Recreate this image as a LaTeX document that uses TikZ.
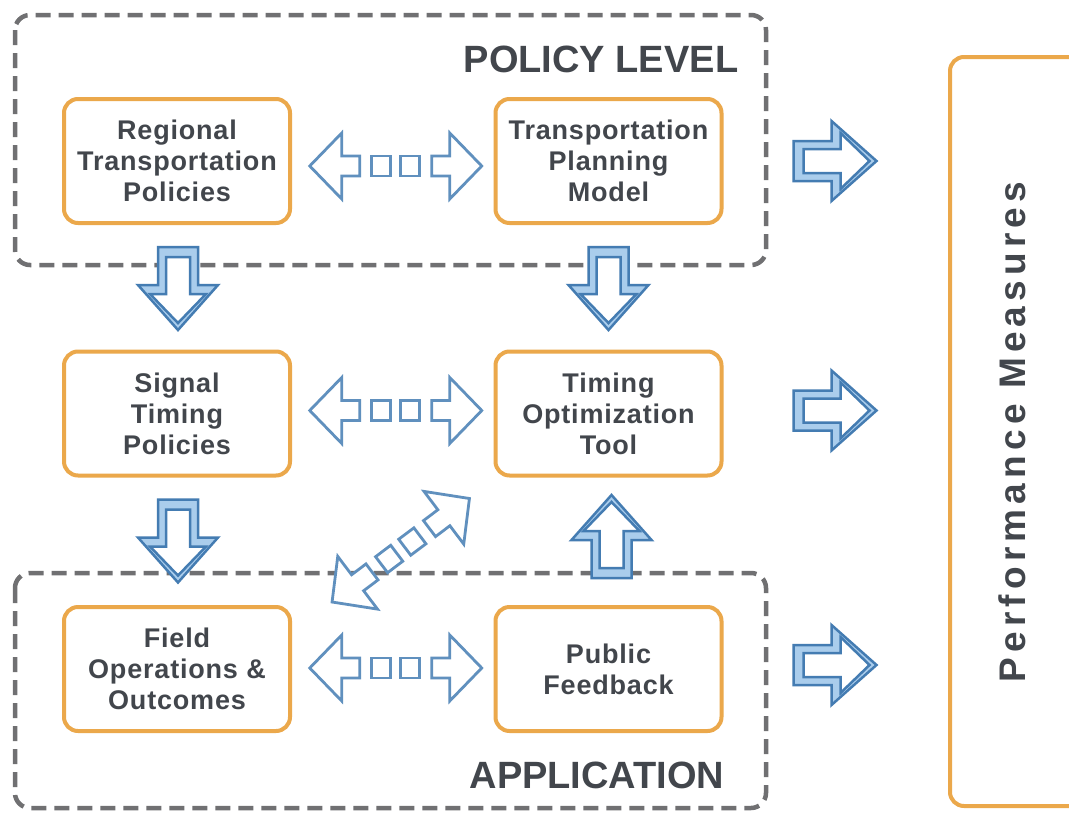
\documentclass[tikz,border=0pt]{standalone}
\usepackage{fontspec}
\setmainfont{Liberation Sans}
\newfontfamily\boxfont[LetterSpace=3]{Liberation Sans}
\newfontfamily\perffont[LetterSpace=14]{Liberation Sans}
\usepackage{xcolor}
\usepackage{tikz}
\usetikzlibrary{calc}
\definecolor{boxorange}{RGB}{235,168,75}
\definecolor{framegray}{RGB}{112,112,114}
\definecolor{textgray}{RGB}{66,70,76}
\definecolor{arrowblue}{RGB}{68,124,178}
\definecolor{arrowfill}{RGB}{170,205,236}

% hollow double arrow: centre #1, turned by #2
\newcommand{\dblarrow}[2]{%
  \begin{scope}[shift={#1},rotate=#2]
    \draw[dblline] (-86,0) -- (-54,-33) -- (-54,-10) -- (-36,-10) -- (-36,10) -- (-54,10) -- (-54,33) -- cycle;
    \draw[dblline] (-24,-10) rectangle (-5,10);
    \draw[dblline] (5,-10) rectangle (24,10);
    \draw[dblline] (86,0) -- (54,-33) -- (54,-10) -- (36,-10) -- (36,10) -- (54,10) -- (54,33) -- cycle;
  \end{scope}}

% block arrow: base at #1, pointing along #2
\newcommand{\blockarrow}[2]{%
  \begin{scope}[shift={#1},rotate=#2]
    \draw[blockouter] (0,-20) -- (38,-20) -- (38,-40) -- (83,0) -- (38,40) -- (38,20) -- (0,20) -- cycle;
    \draw[blockinner] (10,-12) -- (47,-12) -- (47,-28) -- (76,0) -- (47,28) -- (47,12) -- (10,12) -- cycle;
  \end{scope}}

\begin{document}
\begin{tikzpicture}[x=1pt,y=-1pt,
    infobox/.style={draw=boxorange, line width=4, rounded corners=14, fill=white,
      minimum width=226, minimum height=124, align=center, text=textgray,
      font=\boxfont\bfseries\fontsize{27}{31}\selectfont},
    leveltitle/.style={text=textgray, font=\bfseries\fontsize{38}{40}\selectfont},
    levelframe/.style={draw=framegray, line width=4.5, rounded corners=15,
      dash pattern=on 15 off 8},
    dblline/.style={draw=arrowblue!85, line width=2.8, fill=white, line join=miter},
    blockouter/.style={draw=arrowblue, line width=2.5, fill=arrowfill},
    blockinner/.style={draw=arrowblue, line width=2.5, fill=white}]
\useasboundingbox (0,0) rectangle (1069,812);
\fill[white] (0,0) rectangle (1069,812);

% level frames
\draw[levelframe] (15,15) rectangle (766,265);
\draw[levelframe] (15,573) rectangle (766,808);
\node[leveltitle] (policytitle) at (601,59) {POLICY LEVEL};
\node[leveltitle] (apptitle) at (597,775) {APPLICATION};

% boxes
\node[infobox] (regional) at (177,161) {Regional\\Transportation\\Policies};
\node[infobox] (planning) at (608.5,161) {Transportation\\Planning\\Model};
\node[infobox] (signal) at (177,413.5) {Signal\\Timing\\Policies};
\node[infobox] (optim) at (608.5,413.5) {Timing\\Optimization\\Tool};
\node[infobox] (field) at (177,669) {Field\\Operations \&\\Outcomes};
\node[infobox] (feedback) at (608.5,669) {Public\\Feedback};

% performance measures
\draw[draw=boxorange, line width=4, rounded corners=14] (950,57) rectangle (1100,806);
\node[rotate=90, text=textgray, font=\perffont\bfseries\fontsize{37}{40}\selectfont]
  (perf) at (1012,432) {Performance Measures};

% two-way links
\dblarrow{($(regional.east)!0.5!(planning.west)+(3,5)$)}{0}
\dblarrow{($(signal.east)!0.5!(optim.west)+(3,-3)$)}{0}
\dblarrow{($(field.east)!0.5!(feedback.west)+(3,-1)$)}{0}
\dblarrow{($(field.north east)!0.5!(optim.south west)+(8,9)$)}{37}

% flows down and up
\blockarrow{($(regional.south)+(1,22)$)}{-90}
\blockarrow{($(planning.south)+(0,22)$)}{-90}
\blockarrow{($(signal.south)+(1,22)$)}{-90}
\blockarrow{($(feedback.north)+(3,-27)$)}{90}

% flows to measures
\blockarrow{($(planning.east)+(70,0)$)}{0}
\blockarrow{($(optim.east)+(70,-3)$)}{0}
\blockarrow{($(feedback.east)+(70,-4)$)}{0}
\end{tikzpicture}
\end{document}
